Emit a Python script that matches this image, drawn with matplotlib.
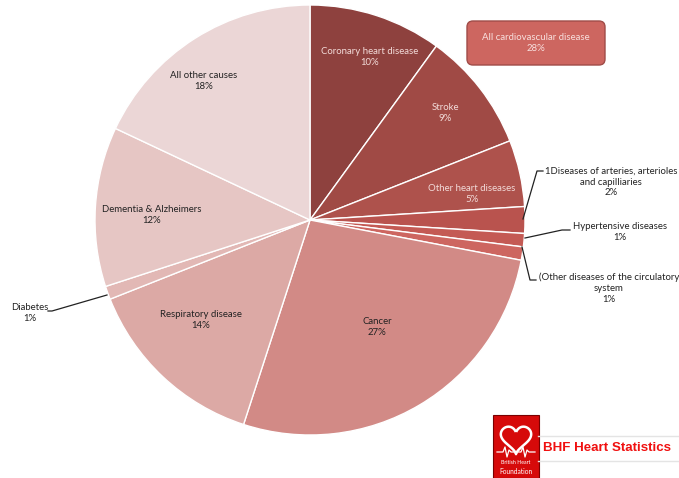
import numpy as np
import matplotlib.pyplot as plt
from matplotlib.patches import FancyBboxPatch, Rectangle

plt.rcParams['font.family'] = ['Lato', 'DejaVu Sans']

W, H = 679, 478

causes = ['Coronary heart disease', 'Stroke', 'Other heart diseases',
          '1Diseases of arteries, arterioles\nand capilliaries',
          'Hypertensive diseases',
          '(Other diseases of the circulatory\nsystem',
          'Cancer', 'Respiratory disease', 'Diabetes',
          'Dementia & Alzheimers', 'All other causes']
shares = [10, 9, 5, 2, 1, 1, 27, 14, 1, 12, 18]
cvd_total = 28

colors = ['#8e413e', '#a04a45', '#ae524c', '#b9534e', '#c45a54', '#cd6660',
          '#d28a86', '#dca9a5', '#e2b8b5', '#e6c6c4', '#ebd6d6']
text_cols = ['#f3dcda'] * 6 + ['#222222'] * 5

# label anchor points (pixels from top-left)
label_xy = [(370, 57), (445, 113), (472, 194), (611, 182), (620, 232),
            (609, 288), (377, 327), (201, 320), (30, 313), (152, 215),
            (204, 81)]
# leader lines for the small slices
leaders = {
    3: [(523, 219), (537, 171), (543, 171)],
    4: [(525, 238), (562, 230), (570, 230)],
    5: [(522, 247), (530, 280), (536, 280)],
    8: [(107, 295), (52, 311), (48, 311)],
}

fig = plt.figure(figsize=(W / 100, H / 100), dpi=100)
ax = fig.add_axes([0, 0, 1, 1])

cx, cy, r = 310, 220, 215
ax.pie(shares, colors=colors, startangle=90, counterclock=False,
       center=(cx, H - cy), radius=r, frame=True,
       wedgeprops=dict(edgecolor='white', linewidth=1.0))

for i, (name, val) in enumerate(zip(causes, shares)):
    x, y = label_xy[i]
    outside = i in (3, 4, 5, 8)
    ax.text(x, H - y, f'{name}\n{val}%', ha='center', va='center',
            fontsize=6.9, linespacing=1.25,
            color='#222222' if outside else text_cols[i])
    if i in leaders:
        pts = np.array(leaders[i], dtype=float)
        ax.plot(pts[:, 0], H - pts[:, 1], color='#222222', lw=0.9)

# cardiovascular total box
box = FancyBboxPatch((467, H - 65), 138, 44, boxstyle='round,pad=0,rounding_size=6',
                     facecolor='#cd6660', edgecolor='#a04c48', lw=1.0)
ax.add_patch(box)
ax.text(536, H - 43, f'All cardiovascular disease\n{cvd_total}%', ha='center',
        va='center', fontsize=6.9, color='#f8e0de', linespacing=1.25)

# BHF logo + title
ax.plot([538, W], [H - 436, H - 436], color='#e4e4e4', lw=1)
ax.plot([538, W], [H - 461, H - 461], color='#e4e4e4', lw=1)
ax.add_patch(Rectangle((493, H - 478), 46, 63, facecolor='#d60a0a',
                       edgecolor='#7a0000', lw=0.8))
t = np.linspace(0, 2 * np.pi, 200)
hx = 16 * np.sin(t) ** 3
hy = 13 * np.cos(t) - 5 * np.cos(2 * t) - 2 * np.cos(3 * t) - np.cos(4 * t)
keep = (t > 0.35) & (t < 2 * np.pi - 0.35)
ax.plot(516 + hx[keep] * 0.95, H - 438 + hy[keep] * 0.95, color='white', lw=1.8)
ax.plot([497, 503, 505, 507, 509, 511, 514], [H - 452, H - 452, H - 447, H - 457,
        H - 450, H - 452, H - 452], color='white', lw=0.9)
ax.plot([518, 521, 523, 525, 527, 529, 535], [H - 452, H - 452, H - 447, H - 457,
        H - 450, H - 452, H - 452], color='white', lw=0.9)
ax.text(516, H - 463, 'British Heart', ha='center', va='center', fontsize=3.8,
        color='white')
ax.text(516, H - 471, 'Foundation', ha='center', va='center', fontsize=4.8,
        color='white')
ax.text(543, H - 448, 'BHF Heart Statistics', ha='left', va='center',
        fontsize=9.6, fontweight='bold', color='#f01010',
        family=['Liberation Sans', 'DejaVu Sans'])

ax.set_xlim(0, W)
ax.set_ylim(0, H)
ax.axis('off')

fig.savefig('out.png', dpi=100, facecolor='white')
